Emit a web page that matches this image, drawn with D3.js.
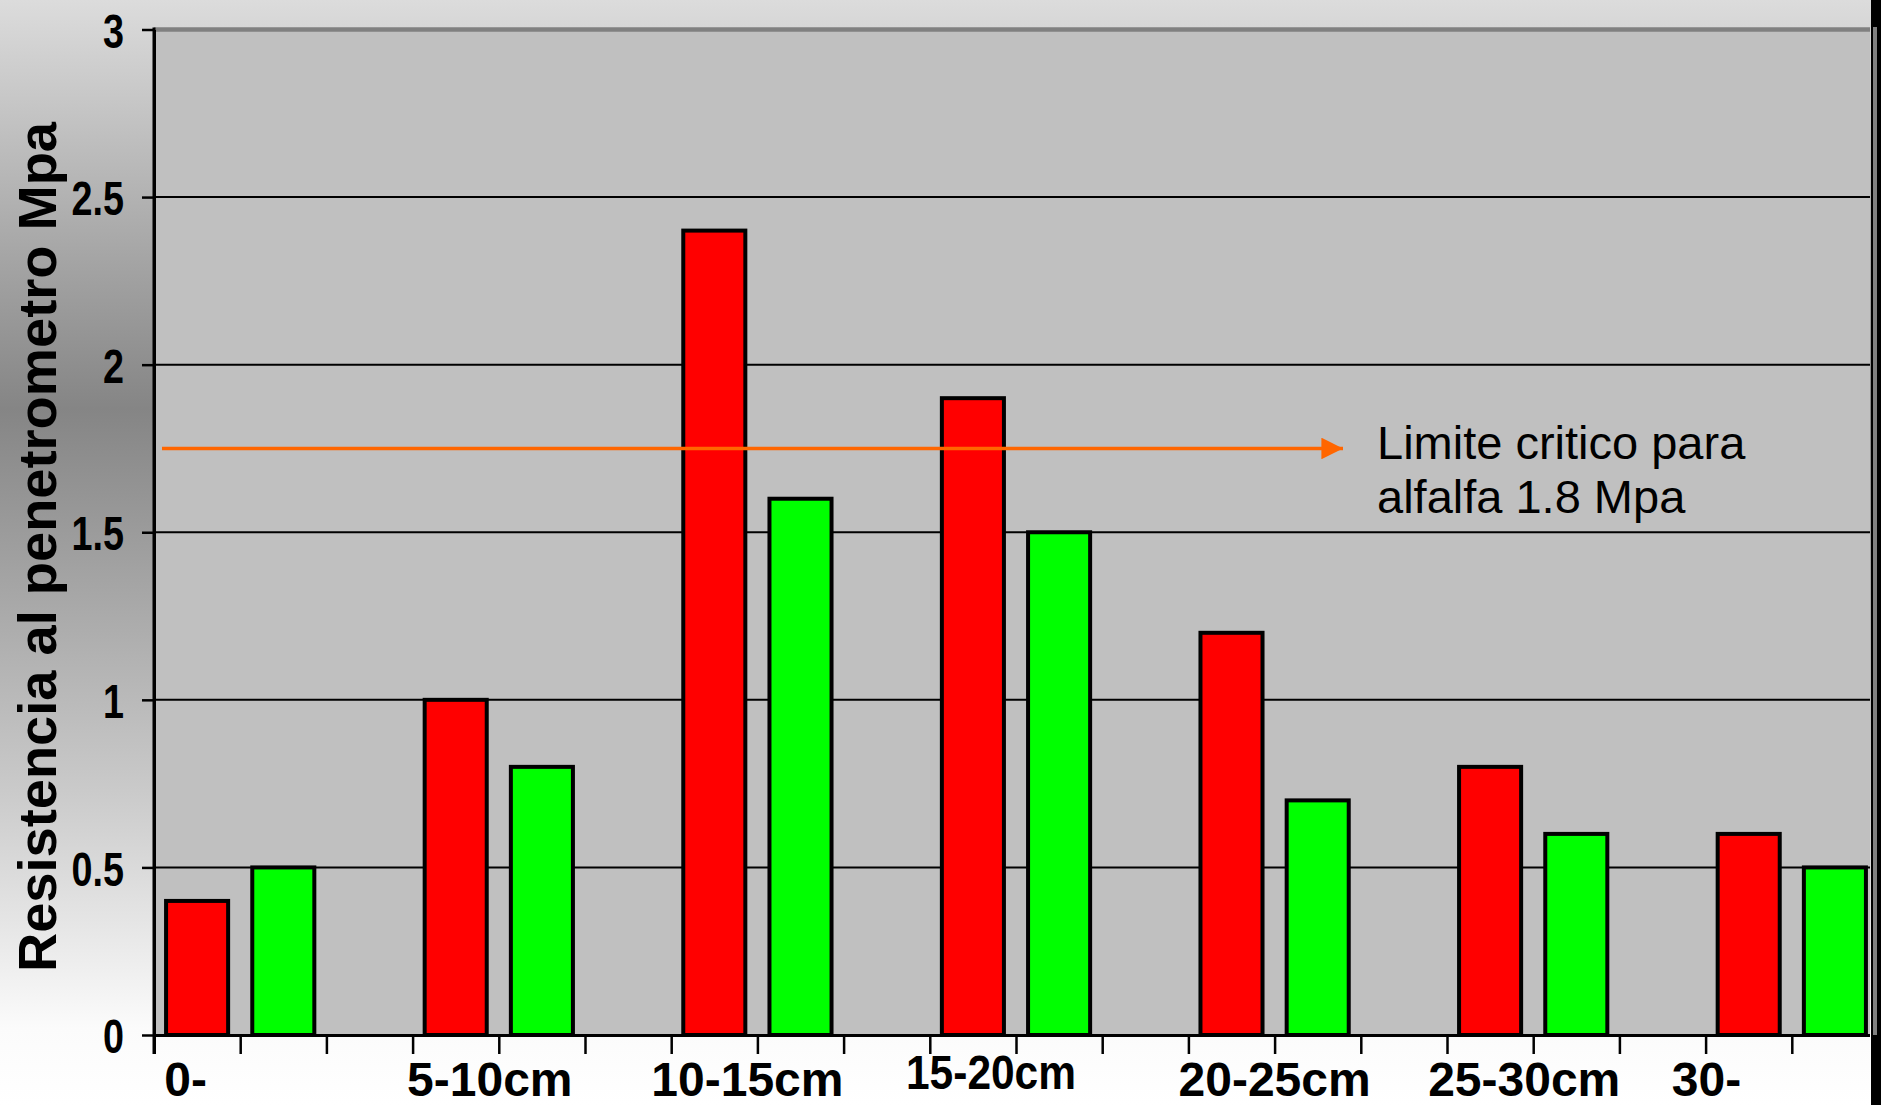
<!DOCTYPE html>
<html>
<head>
<meta charset="utf-8">
<script src="https://cdn.jsdelivr.net/npm/d3@7/dist/d3.min.js"></script>
<style>
  html, body { margin: 0; padding: 0; background: #ffffff; }
  svg { display: block; }
  text { font-family: "Liberation Sans", Arial, sans-serif; }
</style>
</head>
<body>
<svg id="chart" width="1881" height="1105"></svg>
<script>
// ---- data ----
const groups = ["0-", "5-10cm", "10-15cm", "15-20cm", "20-25cm", "25-30cm", "30-"];
const redValues = [0.4, 1.0, 2.4, 1.9, 1.2, 0.8, 0.6];
const greenValues = [0.5, 0.8, 1.6, 1.5, 0.7, 0.6, 0.5];
const yTicks = [0, 0.5, 1, 1.5, 2, 2.5, 3];
const yTitle = "Resistencia al penetrometro Mpa";
const limitValue = 1.75;
const limitLines = ["Limite critico para", "alfalfa 1.8 Mpa"];
const slotCount = 20;

// ---- layout ----
const W = 1881, H = 1105;
const plotLeft = 154, plotRight = 1878, plotTop = 29.5, plotBottom = 1035, clipRight = 1870;
const svg = d3.select("#chart");

const defs = svg.append("defs");
const bg = defs.append("linearGradient").attr("id", "bg").attr("x1", 0).attr("y1", 0).attr("x2", 0).attr("y2", 1);
bg.append("stop").attr("offset", "0").attr("stop-color", "#dcdcdc");
bg.append("stop").attr("offset", "0.37").attr("stop-color", "#858585");
bg.append("stop").attr("offset", "0.72").attr("stop-color", "#cbcbcb");
bg.append("stop").attr("offset", "0.93").attr("stop-color", "#fbfbfb");
bg.append("stop").attr("offset", "1").attr("stop-color", "#ffffff");
defs.append("clipPath").attr("id", "plotclip").append("rect")
  .attr("x", plotLeft).attr("y", 0).attr("width", clipRight - plotLeft).attr("height", H);
defs.append("marker").attr("id", "arrow").attr("viewBox", "0 0 10 10")
  .attr("refX", 10).attr("refY", 5).attr("markerWidth", 6.5).attr("markerHeight", 6)
  .attr("markerUnits", "strokeWidth").attr("orient", "auto")
  .append("path").attr("d", "M0,0 L10,5 L0,10 Z").attr("fill", "#ff6600");

svg.append("rect").attr("width", W).attr("height", H).attr("fill", "url(#bg)");

const slots = d3.range(slotCount);
const xSlot = d3.scaleBand().domain(slots).range([plotLeft, plotRight]).padding(0);
const xBar = d3.scaleBand().domain(slots).range([plotLeft, plotRight]).paddingInner(0.28).paddingOuter(0.14);
const y = d3.scaleLinear().domain([0, 3]).range([plotBottom, plotTop]);

const plot = svg.append("g").attr("clip-path", "url(#plotclip)");
plot.append("rect").attr("x", plotLeft).attr("y", plotTop).attr("width", plotRight - plotLeft).attr("height", plotBottom - plotTop)
  .attr("fill", "#c0c0c0");

// gridlines
plot.append("g").selectAll("line").data(yTicks.filter(t => t > 0 && t < 3)).join("line")
  .attr("x1", plotLeft).attr("x2", plotRight).attr("y1", d => y(d)).attr("y2", d => y(d))
  .attr("stroke", "#000").attr("stroke-width", 2);

// top border
plot.append("line").attr("x1", plotLeft).attr("x2", plotRight).attr("y1", y(3)).attr("y2", y(3))
  .attr("stroke", "#808080").attr("stroke-width", 4.5);

// bars
const bars = [];
groups.forEach((g, i) => {
  bars.push({slot: 3 * i, v: redValues[i], c: "#ff0000"});
  bars.push({slot: 3 * i + 1, v: greenValues[i], c: "#00ff00"});
});
plot.append("g").selectAll("rect").data(bars).join("rect")
  .attr("x", d => xBar(d.slot)).attr("width", xBar.bandwidth())
  .attr("y", d => y(d.v)).attr("height", d => y(0) - y(d.v))
  .attr("fill", d => d.c).attr("stroke", "#000").attr("stroke-width", 4);

// x axis with slot-boundary ticks
const xAxis = d3.axisBottom(d3.scaleLinear().domain([0, slotCount]).range([plotLeft, plotRight]))
  .tickValues(d3.range(slotCount)).tickSize(19).tickFormat("");
const gx = plot.append("g").attr("transform", `translate(0,${plotBottom})`).call(xAxis);
gx.select(".domain").attr("stroke", "#000").attr("stroke-width", 3);
gx.selectAll(".tick line").attr("stroke", "#000").attr("stroke-width", 2.5);

// y axis
const yScaleX = 0.77;
const yAxis = d3.axisLeft(y).tickValues(yTicks).tickSize(12).tickPadding(0)
  .tickFormat(d => d3.format("")(d)).tickSizeOuter(0);
const gy = svg.append("g").attr("transform", `translate(${plotLeft},0)`).call(yAxis);
gy.select(".domain").attr("stroke", "#000").attr("stroke-width", 3);
gy.selectAll(".tick line").attr("stroke", "#000").attr("stroke-width", 2.5);
gy.selectAll(".tick text").attr("font-size", 49).attr("font-weight", "bold").attr("fill", "#000")
  .attr("font-family", "'Liberation Sans', Arial, sans-serif")
  .attr("x", -30 / yScaleX).attr("dy", "0.36em")
  .attr("transform", `scale(${yScaleX},1)`);
svg.append("line").attr("x1", plotLeft).attr("x2", plotLeft).attr("y1", plotTop - 2).attr("y2", plotBottom + 19)
  .attr("stroke", "#000").attr("stroke-width", 3);

// y title
svg.append("text").attr("transform", `translate(56,547) rotate(-90)`)
  .attr("text-anchor", "middle").attr("font-size", 53).attr("font-weight", "bold")
  .attr("textLength", 850).attr("lengthAdjust", "spacingAndGlyphs")
  .text(yTitle);

// x category labels (placed at boundary between the pair of bars)
const labelLayout = [
  {anchor: "start", dx: -76, baseline: 1096, len: null},
  {anchor: "middle", dx: -9, baseline: 1096, len: null},
  {anchor: "middle", dx: -10, baseline: 1096, len: null},
  {anchor: "middle", dx: -25, baseline: 1089, len: 170},
  {anchor: "middle", dx: 0, baseline: 1096, len: null},
  {anchor: "middle", dx: -9, baseline: 1096, len: null},
  {anchor: "start", dx: -120, baseline: 1096, len: null}
];
svg.append("g").selectAll("text").data(groups).join("text")
  .attr("x", (d, i) => xSlot(3 * i + 1) + labelLayout[i].dx)
  .attr("y", (d, i) => labelLayout[i].baseline)
  .attr("text-anchor", (d, i) => labelLayout[i].anchor)
  .attr("font-size", 48).attr("font-weight", "bold").attr("fill", "#000")
  .each(function(d, i) {
    if (labelLayout[i].len) d3.select(this).attr("textLength", labelLayout[i].len).attr("lengthAdjust", "spacingAndGlyphs");
  })
  .text(d => d);

// critical limit arrow
svg.append("line").attr("x1", 162).attr("x2", 1343).attr("y1", y(limitValue)).attr("y2", y(limitValue))
  .attr("stroke", "#ff6600").attr("stroke-width", 3.6).attr("marker-end", "url(#arrow)");
svg.append("g").selectAll("text").data(limitLines).join("text")
  .attr("x", 1377).attr("y", (d, i) => 459 + i * 54)
  .attr("font-size", 47).attr("fill", "#000")
  .text(d => d);

// right slide frame
svg.append("rect").attr("x", 1871).attr("y", 0).attr("width", 10).attr("height", H).attr("fill", "#000");
svg.append("rect").attr("x", 1873).attr("y", 27).attr("width", 4).attr("height", plotBottom - 27).attr("fill", "#808080");
</script>
</body>
</html>
